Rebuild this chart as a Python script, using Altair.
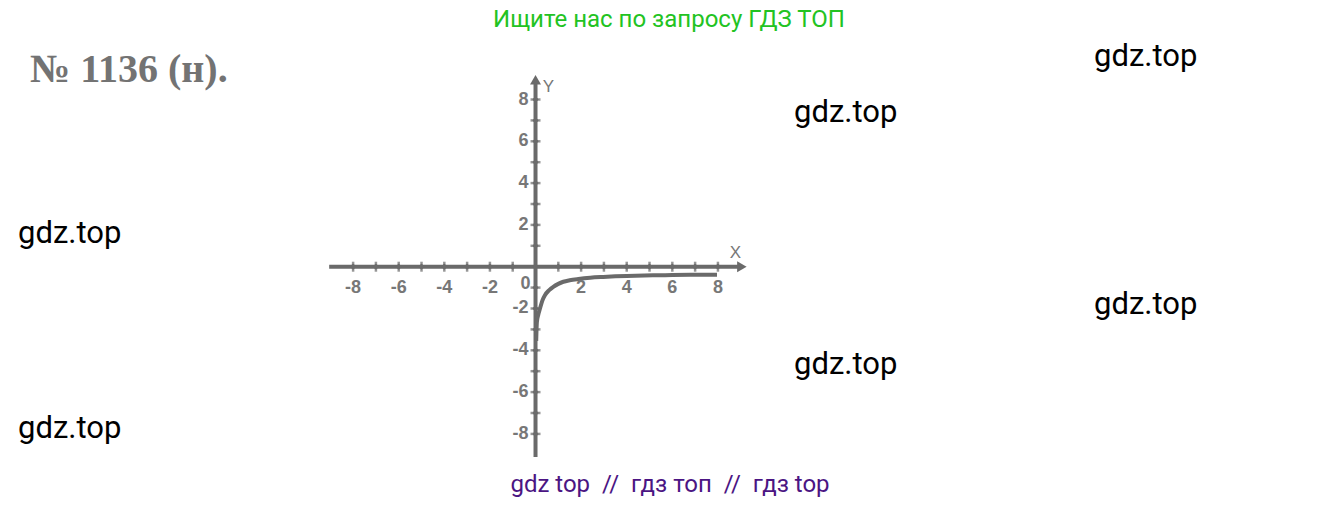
import altair as alt
import pandas as pd

# ---- data ----
curve_x = [0.03, 0.06, 0.12, 0.2, 0.3, 0.42, 0.6, 0.78, 1.0, 1.22, 1.5, 1.88, 2.4, 2.97, 3.5, 4.0, 5.15, 6.0, 6.8, 7.96]
curve_y = [-3.55, -2.65, -2.3, -1.99, -1.62, -1.35, -1.12, -0.96, -0.82, -0.72, -0.65, -0.59, -0.53, -0.49, -0.46, -0.44, -0.41, -0.40, -0.39, -0.38]

axis_ticks = [-8, -7, -6, -5, -4, -3, -2, -1, 1, 2, 3, 4, 5, 6, 7, 8]
x_labels = [-8, -6, -4, -2, 2, 4, 6, 8]
y_labels = [8, 6, 4, 2, -2, -4, -6, -8]

title_text = "№ 1136 (н)."
wm_text = "gdz.top"
wm_left = [1094, 794, 18, 1094, 794, 18]
wm_mid = [57, 113, 234, 305, 365, 429]
top_text = "Ищите нас по запросу ГДЗ ТОП"
NB = "\u00a0"
bottom_text = "gdz top" + NB * 2 + "//" + NB * 2 + "гдз топ" + NB * 2 + "//" + NB * 2 + "гдз top"

# ---- layout constants ----
W, H = 1326, 490
XMIN, XMAX = -23.136, 35.02
YMIN, YMAX = -11.067, 12.378
GRAY = "#6a6a6a"
LGRAY = "#777777"

xs = alt.Scale(domain=[XMIN, XMAX], nice=False, zero=False)
ys = alt.Scale(domain=[YMIN, YMAX], nice=False, zero=False)

curve_df = pd.DataFrame({"x": curve_x, "y": curve_y})
xt_df = pd.DataFrame({"x": axis_ticks, "y": [0] * len(axis_ticks)})
yt_df = pd.DataFrame({"x": [0] * len(axis_ticks), "y": axis_ticks})
xl_df = pd.DataFrame({"x": x_labels, "y": [0] * len(x_labels), "t": [str(v) for v in x_labels]})
yl_df = pd.DataFrame({"x": [0] * len(y_labels), "y": y_labels, "t": [str(v) for v in y_labels]})
axes_df = pd.DataFrame({"x": [-9.05, 0], "x2": [9.0, 0], "y": [0, -9.1], "y2": [0, 8.9]})
arrow_df = pd.DataFrame({"x": [9.05, 0], "y": [0, 8.95], "s": ["triangle-right", "triangle-up"]})

X = lambda: alt.X("x:Q", scale=xs, axis=None)
Y = lambda: alt.Y("y:Q", scale=ys, axis=None)

axes = alt.Chart(axes_df).mark_rule(color=GRAY, strokeWidth=4).encode(
    x=X(), x2="x2:Q", y=Y(), y2="y2:Q")

arrows = alt.Chart(arrow_df).mark_point(filled=True, color=GRAY, size=120, opacity=1).encode(
    x=X(), y=Y(), shape=alt.Shape("s:N", scale=None))

xticks = alt.Chart(xt_df).mark_tick(color=GRAY, orient="vertical", size=10, thickness=2.5).encode(x=X(), y=Y())
yticks = alt.Chart(yt_df).mark_tick(color=GRAY, orient="horizontal", size=10, thickness=2.5).encode(x=X(), y=Y())
xdots = alt.Chart(xt_df).mark_point(filled=True, color=GRAY, size=40, shape="diamond", opacity=1).encode(x=X(), y=Y())
ydots = alt.Chart(yt_df).mark_point(filled=True, color=GRAY, size=40, shape="diamond", opacity=1).encode(x=X(), y=Y())

label_style = dict(font="Liberation Sans", fontWeight="bold", fontSize=18, color=LGRAY)
xlabels = alt.Chart(xl_df).mark_text(dy=21, baseline="middle", align="center", **label_style).encode(
    x=X(), y=Y(), text="t:N")
ylabels = alt.Chart(yl_df).mark_text(dx=-7, baseline="middle", align="right", **label_style).encode(
    x=X(), y=Y(), text="t:N")
zero = alt.Chart(pd.DataFrame({"x": [0], "y": [0], "t": ["0"]})).mark_text(
    dx=-10, dy=17, baseline="middle", align="center", **label_style).encode(x=X(), y=Y(), text="t:N")
xlab = alt.Chart(pd.DataFrame({"x": [0], "y": [0], "t": ["X"]})).mark_text(
    dx=200, dy=-14, fontSize=17, font="Liberation Sans", color=LGRAY, align="center", baseline="middle").encode(
    x=X(), y=Y(), text="t:N")
ylab = alt.Chart(pd.DataFrame({"x": [0], "y": [0], "t": ["Y"]})).mark_text(
    dx=13, dy=-180, fontSize=17, font="Liberation Sans", color=LGRAY, align="center", baseline="middle").encode(
    x=X(), y=Y(), text="t:N")

curve = alt.Chart(curve_df).mark_line(color=GRAY, strokeWidth=4, interpolate="monotone").encode(
    x=X(), y=Y(), order="x:Q")

title = alt.Chart(pd.DataFrame({"t": [title_text]})).mark_text(
    font="Liberation Serif", fontWeight="bold", fontSize=40, color="#737373", align="left", baseline="alphabetic").encode(
    x=alt.value(30 - 8), y=alt.value(82 - 8), text="t:N")

wm_df = pd.DataFrame({"l": [v - 8 for v in wm_left], "m": [v - 8 for v in wm_mid], "t": [wm_text] * len(wm_left)})
wms = alt.Chart(wm_df).mark_text(font="Roboto", fontSize=31, color="#000000", align="left", baseline="middle").encode(
    x=alt.X("l:Q", scale=None, axis=None), y=alt.Y("m:Q", scale=None, axis=None), text="t:N")

top = alt.Chart(pd.DataFrame({"t": [top_text]})).mark_text(
    font="Roboto", fontSize=24, color="#22c322", align="center", baseline="alphabetic").encode(
    x=alt.value(669 - 8), y=alt.value(27 - 8), text="t:N")
bottom = alt.Chart(pd.DataFrame({"t": [bottom_text]})).mark_text(
    font="Roboto", fontSize=24, color="#4b1583", align="center", baseline="alphabetic").encode(
    x=alt.value(670 - 8), y=alt.value(492 - 8), text="t:N")

chart = alt.layer(
    axes, xticks, yticks, xdots, ydots, arrows, curve, xlabels, ylabels, zero, xlab, ylab,
    title, wms, top, bottom
).properties(width=W, height=H, padding=0, autosize=alt.AutoSizeParams(type="none")).configure_view(stroke=None)

chart.save("out.html", embed_options={"renderer": "svg", "actions": False})
